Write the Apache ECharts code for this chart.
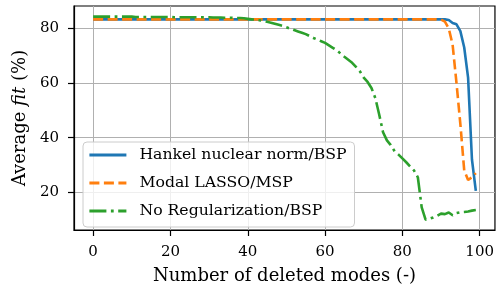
<!DOCTYPE html>
<html><head><meta charset="utf-8">
<script src="https://cdn.jsdelivr.net/npm/echarts@6/dist/echarts.min.js"></script>
<style>html,body{margin:0;padding:0;background:#fff}#c{width:497px;height:295px}</style>
</head><body><div id="c"></div>
<script>
const modes = [
 0,1,2,3,4,5,6,7,8,9,
 10,11,12,13,14,15,16,17,18,19,
 20,21,22,23,24,25,26,27,28,29,
 30,31,32,33,34,35,36,37,38,39,
 40,41,42,43,44,45,46,47,48,49,
 50,51,52,53,54,55,56,57,58,59,
 60,61,62,63,64,65,66,67,68,69,
 70,71,72,73,74,75,76,77,78,79,
 80,81,82,83,84,85,86,87,88,89,
 90,91,92,93,94,95,96,97,98,99];
const hankel = [
 83.3,83.3,83.3,83.3,83.3,83.3,83.3,83.3,83.3,83.3,
 83.3,83.3,83.3,83.3,83.3,83.3,83.3,83.3,83.3,83.3,
 83.3,83.3,83.3,83.3,83.3,83.3,83.3,83.3,83.3,83.3,
 83.3,83.3,83.3,83.3,83.3,83.3,83.3,83.3,83.3,83.3,
 83.3,83.3,83.3,83.3,83.3,83.3,83.3,83.3,83.3,83.3,
 83.3,83.3,83.3,83.3,83.3,83.3,83.3,83.3,83.3,83.3,
 83.3,83.3,83.3,83.3,83.3,83.3,83.3,83.3,83.3,83.3,
 83.3,83.3,83.3,83.3,83.3,83.3,83.3,83.3,83.3,83.3,
 83.3,83.3,83.3,83.3,83.3,83.3,83.3,83.3,83.3,83.3,
 83.3,83.3,83.1,82.0,81.5,79.0,73.0,62.0,32.0,20.5];
const lasso = [
 83.3,83.3,83.3,83.3,83.3,83.3,83.3,83.3,83.3,83.3,
 83.3,83.3,83.3,83.3,83.3,83.3,83.3,83.3,83.3,83.3,
 83.3,83.3,83.3,83.3,83.3,83.3,83.3,83.3,83.3,83.3,
 83.3,83.3,83.3,83.3,83.3,83.3,83.3,83.3,83.3,83.3,
 83.3,83.3,83.3,83.3,83.3,83.3,83.3,83.3,83.3,83.3,
 83.3,83.3,83.3,83.3,83.3,83.3,83.3,83.3,83.3,83.3,
 83.3,83.3,83.3,83.3,83.3,83.3,83.3,83.3,83.3,83.3,
 83.3,83.3,83.3,83.3,83.3,83.3,83.3,83.3,83.3,83.3,
 83.3,83.3,83.3,83.3,83.3,83.3,83.3,83.3,83.3,83.3,
 83.2,82.5,80.0,74.0,60.0,45.0,28.0,24.5,25.5,27.0];
const noreg = [
 84.3,84.3,84.3,84.3,84.3,84.3,84.3,84.3,84.3,84.3,
 84.3,84.2,84.2,84.2,84.2,84.2,84.2,84.2,84.2,84.2,
 84.2,84.1,84.1,84.1,84.1,84.1,84.1,84.1,84.1,84.1,
 84.1,84.0,84.0,84.0,83.9,83.9,83.9,83.8,83.8,83.7,
 83.5,83.3,83.2,83.0,82.7,82.4,82.1,81.7,81.3,80.9,
 80.4,79.9,79.4,78.9,78.4,77.9,77.2,76.5,75.9,75.3,
 74.7,73.8,72.9,72.0,70.8,69.6,68.5,67.4,65.9,64.3,
 62.0,60.4,58.2,54.5,48.5,42.0,39.0,37.3,35.0,33.8,
 32.4,31.0,29.5,28.0,25.5,14.5,10.0,10.3,10.8,11.4,
 12.2,12.0,12.6,11.6,12.4,12.7,12.8,13.0,13.3,13.5];
const xTicks = [0,20,40,60,80,100];
const yTicks = [20,40,60,80];
const seriesNames = ['Hankel nuclear norm/BSP','Modal LASSO/MSP','No Regularization/BSP'];

const F = 'DejaVu Serif';
const pair = ys => modes.map((x,i)=>[x, ys[i]]);
const chart = echarts.init(document.getElementById('c'), null, {renderer:'canvas'});
const axisCommon = {
  axisLine:{show:true,onZero:false,lineStyle:{color:'#000',width:1.2}},
  splitLine:{show:true,lineStyle:{color:'#b0b0b0',width:1}},
};
chart.setOption({
  animation:false,
  grid:{left:74,top:6,width:426,height:224,show:true,borderColor:'#000',borderWidth:1.2},
  xAxis:Object.assign({type:'value',min:-4.95,max:103.95,
    name:'Number of deleted modes (-)',nameLocation:'middle',nameGap:37,
    nameTextStyle:{fontFamily:F,fontSize:18,color:'#000'},
    axisTick:{show:true,inside:false,length:6,customValues:xTicks,lineStyle:{color:'#000',width:1.2}},
    axisLabel:{customValues:xTicks,margin:15,fontFamily:F,fontSize:15,color:'#000'}},axisCommon),
  yAxis:Object.assign({type:'value',min:6.2,max:88.2,
    name:'{a|Average }{b|fit}{a| (%)}',nameLocation:'middle',nameGap:42,nameRotate:90,
    nameTextStyle:{fontFamily:F,fontSize:18,color:'#000',rich:{a:{fontFamily:F,fontSize:18,color:'#000'},b:{fontFamily:F,fontSize:18,fontStyle:'italic',color:'#000'}}},
    axisTick:{show:true,inside:false,length:6,customValues:yTicks,lineStyle:{color:'#000',width:1.2}},
    axisLabel:{customValues:yTicks,margin:15,fontFamily:F,fontSize:15,color:'#000'}},axisCommon),
  legend:{orient:'vertical',left:83,top:142,itemWidth:37,itemHeight:14,itemGap:12,
    padding:[5,8,8,5],backgroundColor:'rgba(255,255,255,0.8)',borderColor:'#cccccc',borderWidth:1,borderRadius:4,
    itemStyle:{opacity:0},
    lineStyle:{width:2.8},
    textStyle:{fontFamily:F,fontSize:15.7,color:'#000',padding:[0,0,0,8]},data:seriesNames},
  series:[
    {name:seriesNames[0],type:'line',symbol:'none',data:pair(hankel),z:2,
     lineStyle:{color:'#1f77b4',width:2.6,type:'solid'},itemStyle:{color:'#1f77b4',opacity:0}},
    {name:seriesNames[1],type:'line',symbol:'none',data:pair(lasso),z:3,
     lineStyle:{color:'#ff7f0e',width:2.6,type:[10,4.5]},itemStyle:{color:'#ff7f0e',opacity:0}},
    {name:seriesNames[2],type:'line',symbol:'none',data:pair(noreg),z:4,
     lineStyle:{color:'#2ca02c',width:2.6,type:[17,4.5,2.8,4.5]},itemStyle:{color:'#2ca02c',opacity:0}}
  ]
});
</script></body></html>
